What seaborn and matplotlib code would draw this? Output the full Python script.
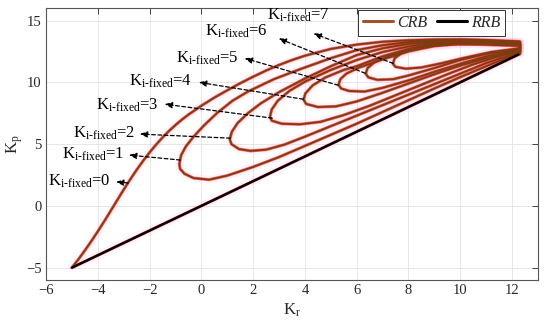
import matplotlib
matplotlib.use("Agg")
import numpy as np
import pandas as pd
import matplotlib.pyplot as plt
from matplotlib.lines import Line2D
import seaborn as sns

sns.set_theme(style="white")
plt.rcParams.update({
    "font.family": ["Liberation Serif", "DejaVu Serif"],
    "mathtext.fontset": "custom",
    "mathtext.rm": "Liberation Serif",
    "mathtext.it": "Liberation Serif:italic",
    "font.size": 10,
})

# ---- data: (Kr, Kp), each branch starts at the loop's left tip ----
ki_levels = [0, 1, 2, 3, 4, 5, 6, 7]

ki0_upper = [(-5, -5), (-4.75, -4.33), (-4.5, -3.61), (-4.25, -2.86), (-4, -2.07), (-3.75, -1.25),
             (-3.5, -0.4), (-3.25, 0.46), (-3, 1.31), (-2.75, 2.13), (-2.5, 2.91), (-2.25, 3.64),
             (-2, 4.32), (-1.75, 4.95), (-1.5, 5.53), (-1.25, 6.06), (-1, 6.54), (-0.75, 6.98),
             (-0.5, 7.38), (0, 8.1), (0.5, 8.76), (1, 9.35), (1.5, 9.92), (2, 10.45), (2.5, 10.95),
             (3, 11.4), (3.5, 11.8), (4, 12.15), (5, 12.7), (6, 13.05), (7, 13.28), (8, 13.4),
             (9, 13.46), (10, 13.47), (11, 13.42), (12.3, 13.3)]
ki0_lower = [(-5, -5), (12.3, 12.3)]

ki1_upper = [(-0.85, 3.4), (-0.78, 4.1), (-0.6, 4.8), (-0.3, 5.6), (0.1, 6.5), (0.6, 7.5), (1.2, 8.5),
             (1.8, 9.25), (2.8, 10.25), (3.8, 11.05), (5, 11.95), (6, 12.6), (7, 13.0), (8, 13.25),
             (9, 13.38), (10, 13.42), (11, 13.37), (12.3, 13.25)]
ki1_lower = [(-0.85, 3.4), (-0.82, 3.0), (-0.65, 2.6), (-0.3, 2.25), (0.3, 2.12), (1, 2.45), (2, 3.15),
             (3, 3.95), (4, 4.85), (5, 5.75), (6, 6.65), (7, 7.6), (8, 8.55), (9, 9.5), (10, 10.42),
             (11, 11.3), (12.3, 12.4)]

ki2_upper = [(1.1, 5.4), (1.18, 6.0), (1.4, 6.7), (1.8, 7.5), (2.3, 8.3), (3, 9.2), (4, 10.3), (5, 11.3),
             (6, 12.2), (7, 12.75), (8, 13.1), (9, 13.3), (10, 13.37), (11, 13.32), (12.3, 13.2)]
ki2_lower = [(1.1, 5.4), (1.16, 5.0), (1.45, 4.6), (1.9, 4.45), (2.5, 4.55), (3.2, 4.95), (4, 5.6),
             (5, 6.45), (6, 7.3), (7, 8.15), (8, 9.0), (9, 9.85), (10, 10.7), (11, 11.55), (12.3, 12.48)]

ki3_upper = [(2.65, 7.2), (2.72, 7.8), (2.95, 8.5), (3.4, 9.3), (4, 10.05), (5, 11.0), (6, 11.8),
             (7, 12.45), (8, 12.9), (9, 13.2), (10, 13.3), (11, 13.27), (12.3, 13.15)]
ki3_lower = [(2.65, 7.2), (2.72, 6.9), (3.1, 6.65), (3.8, 6.6), (4.6, 6.8), (5.5, 7.35), (6.5, 8.1),
             (7.5, 8.95), (8.5, 9.8), (9.5, 10.65), (10.5, 11.45), (11.4, 12.05), (12.3, 12.55)]

ki4_upper = [(3.95, 8.6), (4.02, 9.1), (4.3, 9.75), (4.8, 10.4), (5.5, 11.0), (6, 11.3), (7, 12.1),
             (8, 12.7), (9, 13.1), (10, 13.25), (11, 13.22), (12.3, 13.1)]
ki4_lower = [(3.95, 8.6), (4.05, 8.25), (4.5, 8.0), (5.2, 8.05), (6, 8.45), (7, 9.15), (8, 9.9),
             (9, 10.65), (10, 11.35), (11, 11.95), (12.3, 12.6)]

ki5_upper = [(5.3, 9.8), (5.37, 10.25), (5.6, 10.7), (6.1, 11.2), (7, 11.85), (8, 12.5), (9, 12.95),
             (10, 13.18), (11, 13.17), (12.3, 13.05)]
ki5_lower = [(5.3, 9.8), (5.4, 9.5), (5.7, 9.3), (6.3, 9.25), (7, 9.55), (8, 10.15), (9, 10.85),
             (10, 11.5), (11, 12.1), (12.3, 12.65)]

ki6_upper = [(6.35, 10.7), (6.42, 11.15), (6.7, 11.65), (7.2, 12.1), (8, 12.6), (9, 12.95), (10, 13.12),
             (11, 13.12), (12.3, 13.0)]
ki6_lower = [(6.35, 10.7), (6.45, 10.4), (6.8, 10.2), (7.4, 10.25), (8, 10.55), (9, 11.15), (10, 11.8),
             (11, 12.3), (12.3, 12.7)]

ki7_upper = [(7.4, 11.5), (7.47, 11.95), (7.75, 12.4), (8.2, 12.75), (8.9, 13.0), (9.8, 13.08),
             (10.8, 13.06), (12.3, 12.95)]
ki7_lower = [(7.4, 11.5), (7.5, 11.25), (7.9, 11.1), (8.5, 11.2), (9.3, 11.55), (10.1, 11.95),
             (11.2, 12.45), (12.3, 12.75)]

rrb_kr = [-5, 12.25]
rrb_kp = [-5, 12.25]

# label anchors (right end, baseline) and dashed arrows (tail on loop -> head at label)
label_pos = [(-3.51, 1.61), (-2.97, 3.79), (-2.55, 5.56), (-1.66, 7.82),
             (-0.35, 9.76), (1.43, 11.61), (2.55, 13.79), (4.98, 15.05)]
arrow_head = [(-3.3, 1.94), (-2.8, 4.11), (-2.38, 5.81), (-1.42, 8.23),
              (-0.1, 10.0), (1.67, 11.94), (2.98, 13.55), (4.33, 13.95)]
arrow_tail = [(-2.82, 1.85), (-0.81, 3.71), (1.12, 5.48), (2.74, 7.10),
              (3.94, 8.63), (5.29, 9.76), (6.33, 10.73), (7.41, 11.53)]

uppers = [ki0_upper, ki1_upper, ki2_upper, ki3_upper, ki4_upper, ki5_upper, ki6_upper, ki7_upper]
lowers = [ki0_lower, ki1_lower, ki2_lower, ki3_lower, ki4_lower, ki5_lower, ki6_lower, ki7_lower]

rows = []
for ki, up, lo in zip(ki_levels, uppers, lowers):
    pts = lo[::-1] + up[1:] + [lo[-1]]
    for i, (kr, kp) in enumerate(pts):
        rows.append({"Ki": ki, "step": i, "Kr": kr, "Kp": kp})
crb = pd.DataFrame(rows)
rrb = pd.DataFrame({"Kr": rrb_kr, "Kp": rrb_kp})

BROWN = "#7F3C10"

fig, ax = plt.subplots(figsize=(5.5, 3.26), dpi=100)
fig.subplots_adjust(left=0.0836, right=0.978, bottom=0.141, top=0.975)

# faint glow / thin red rim / brown core
sns.lineplot(data=crb, x="Kr", y="Kp", units="Ki", estimator=None, sort=False,
             color="#ff9ad8", lw=6, alpha=0.10, legend=False, ax=ax)
sns.lineplot(data=crb, x="Kr", y="Kp", units="Ki", estimator=None, sort=False,
             color="#ff1a1a", lw=2.3, alpha=0.6, legend=False, ax=ax)
sns.lineplot(data=crb, x="Kr", y="Kp", units="Ki", estimator=None, sort=False,
             color=BROWN, lw=1.35, legend=False, ax=ax)
sns.lineplot(data=rrb, x="Kr", y="Kp", estimator=None, sort=False,
             color="black", lw=1.7, legend=False, ax=ax)

for ki, (tx, ty), head, tail in zip(ki_levels, label_pos, arrow_head, arrow_tail):
    ax.annotate("", xy=head, xytext=tail,
                arrowprops=dict(arrowstyle="-|>,head_length=0.45,head_width=0.18",
                                linestyle=(0, (3, 2)), lw=0.9, color="black",
                                shrinkA=0, shrinkB=0))
    ax.text(tx, ty, r"K$_{\mathrm{i\text{-}fixed}}$=" + str(ki), ha="right", va="baseline",
            fontsize=12, color="black")

ax.set_xlim(-6, 13)
ax.set_ylim(-6, 16)
ax.set_xticks(np.arange(-6, 13, 2))
ax.set_yticks([-5, 0, 5, 10, 15])
ax.grid(True, color="#e3e3e3", lw=0.6)
ax.tick_params(direction="in", length=4, width=0.6, top=True, right=True,
               labelsize=10.5, colors="#262626", pad=3)
for s in ax.spines.values():
    s.set_color("#555555")
    s.set_linewidth(0.8)
ax.set_xlabel(r"K$_{\mathrm{r}}$", fontsize=12, labelpad=3)
ax.set_ylabel(r"K$_{\mathrm{p}}$", fontsize=12, labelpad=1)

handles = [Line2D([], [], color="#A0522D", lw=2.2), Line2D([], [], color="black", lw=2.2)]
leg = ax.legend(handles, ["CRB", "RRB"], loc="upper right", bbox_to_anchor=(0.933, 0.993),
                ncol=2, frameon=True, fancybox=False, framealpha=1, edgecolor="#333333",
                borderaxespad=0, handlelength=1.9, columnspacing=0.6, handletextpad=0.25,
                borderpad=0.3, prop={"style": "italic", "size": 11.5})
leg.get_frame().set_linewidth(0.7)

fig.savefig("out.png", dpi=100)
